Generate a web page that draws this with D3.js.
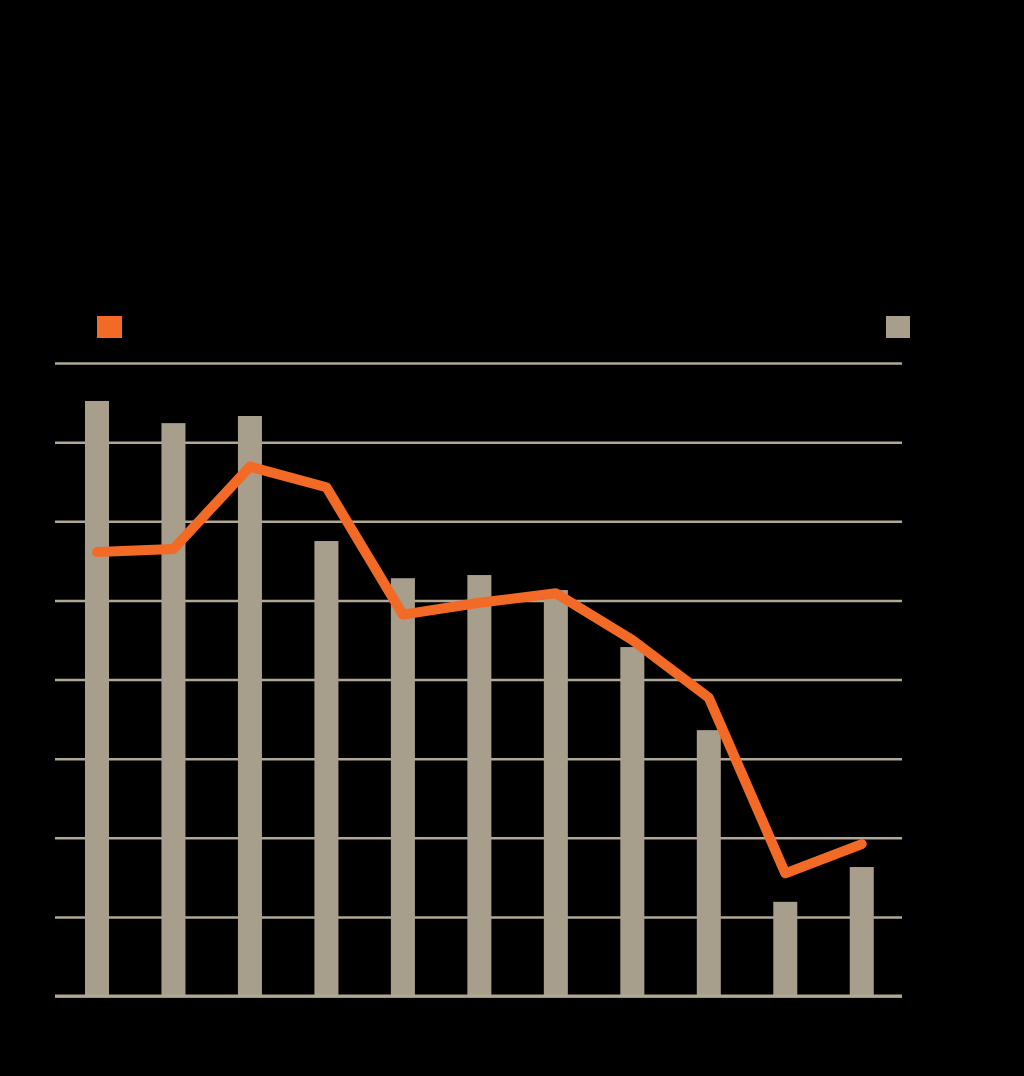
<!DOCTYPE html>
<html>
<head>
<meta charset="utf-8">
<script src="https://cdn.jsdelivr.net/npm/d3@7"></script>
<style>
  html, body { margin: 0; padding: 0; background: #000; }
  svg { display: block; }
</style>
</head>
<body>
<svg id="chart" width="1024" height="1076"></svg>
<script>
// Data (category labels are not visible in the reference)
const categories = ["1", "2", "3", "4", "5", "6", "7", "8", "9", "10", "11"];
const barValues  = [7.52, 7.24, 7.33, 5.75, 5.28, 5.32, 5.13, 4.41, 3.36, 1.19, 1.63];
const lineValues = [5.61, 5.65, 6.69, 6.43, 4.82, 4.97, 5.09, 4.50, 3.77, 1.55, 1.92];
const yTicks     = [0, 1, 2, 3, 4, 5, 6, 7, 8];

const svg = d3.select("#chart");
svg.append("rect").attr("width", 1024).attr("height", 1076).attr("fill", "#000");

const gridColor = "#b0a795";
const barColor = "#a89e8c";
const lineColor = "#f26a26";

const x = d3.scaleBand()
  .domain(categories)
  .range([58.75, 900])
  .paddingInner(0.686)
  .paddingOuter(0.343);

const y = d3.scaleLinear().domain([0, 8]).range([996, 363]);

// Gridlines via axis
const yAxis = d3.axisLeft(y).tickValues(yTicks).tickSize(-(902 - 55)).tickFormat("");
const gAxis = svg.append("g").attr("transform", "translate(55,0)").call(yAxis);
gAxis.select(".domain").remove();
gAxis.selectAll(".tick line").attr("stroke", gridColor).attr("stroke-width", 2.5);

// Bars
svg.append("g").selectAll("rect")
  .data(barValues)
  .join("rect")
  .attr("x", (d, i) => x(categories[i]))
  .attr("width", x.bandwidth())
  .attr("y", d => y(d))
  .attr("height", d => y(0) - y(d))
  .attr("fill", barColor);

// Baseline on top of bars
svg.append("line")
  .attr("x1", 55).attr("x2", 902)
  .attr("y1", y(0)).attr("y2", y(0))
  .attr("stroke", gridColor).attr("stroke-width", 3);

// Line
const line = d3.line()
  .x((d, i) => x(categories[i]) + x.bandwidth() / 2)
  .y(d => y(d));

svg.append("path")
  .datum(lineValues)
  .attr("d", line)
  .attr("fill", "none")
  .attr("stroke", lineColor)
  .attr("stroke-width", 10)
  .attr("stroke-linejoin", "round")
  .attr("stroke-linecap", "round");

// Legend swatches
svg.append("rect").attr("x", 97).attr("y", 316).attr("width", 25).attr("height", 22).attr("fill", lineColor);
svg.append("rect").attr("x", 886).attr("y", 316).attr("width", 24).attr("height", 22).attr("fill", barColor);
</script>
</body>
</html>
